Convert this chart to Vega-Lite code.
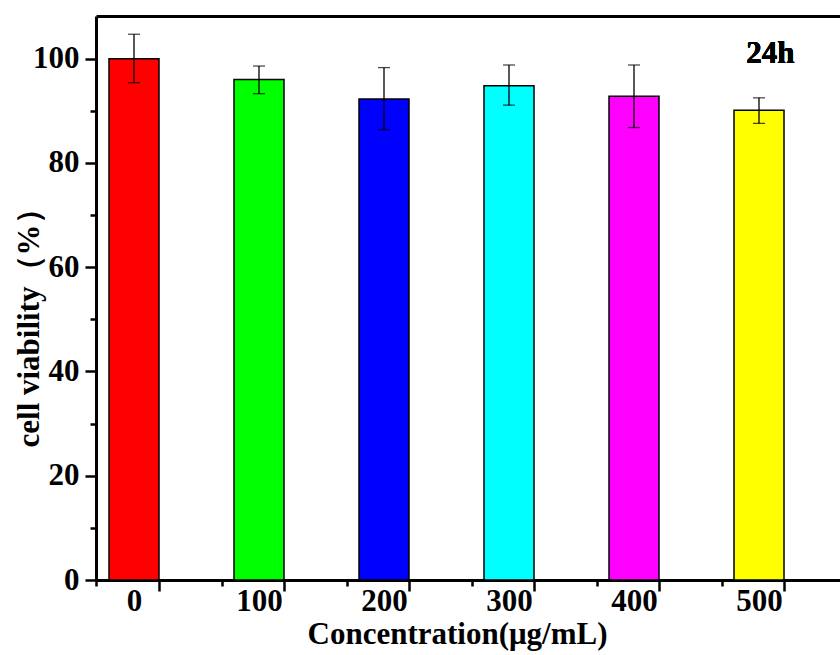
{
  "$schema": "https://vega.github.io/schema/vega-lite/v6.json",
  "width": 744,
  "height": 564,
  "autosize": {"type": "none"},
  "padding": {"left": 96, "top": 16, "right": 0, "bottom": 75},
  "background": "white",
  "config": {
    "view": {"stroke": null},
    "font": "Liberation Serif",
    "axis": {"grid": false, "domainColor": "black", "tickColor": "black", "labelColor": "black", "titleColor": "black"}
  },
  "data": {
    "values": [
      {"conc": 0, "viability": 100.0, "lo": 95.4, "hi": 104.7, "group": "0"},
      {"conc": 100, "viability": 96.0, "lo": 93.3, "hi": 98.6, "group": "100"},
      {"conc": 200, "viability": 92.3, "lo": 86.4, "hi": 98.3, "group": "200"},
      {"conc": 300, "viability": 94.8, "lo": 91.1, "hi": 98.8, "group": "300"},
      {"conc": 400, "viability": 92.8, "lo": 86.8, "hi": 98.8, "group": "400"},
      {"conc": 500, "viability": 90.1, "lo": 87.6, "hi": 92.5, "group": "500"}
    ]
  },
  "resolve": {"axis": {"x": "independent", "y": "independent"}},
  "layer": [
    {
      "mark": {"type": "bar", "width": 50, "stroke": "black", "strokeWidth": 1.5},
      "encoding": {
        "x": {
          "field": "conc", "type": "quantitative",
          "scale": {"domain": [-30.4, 564.8], "nice": false, "zero": false, "padding": 0},
          "axis": {
            "orient": "bottom",
            "values": [20, 120, 220, 320, 420, 520],
            "labelExpr": "datum.value - 20",
            "labelOffset": -25,
            "tickSize": 11, "tickWidth": 2.5, "domainWidth": 3,
            "labelFont": "Liberation Serif", "labelFontWeight": "bold", "labelFontSize": 31,
            "labelPadding": -5,
            "title": "Concentration(μg/mL)",
            "titleFont": "Liberation Serif", "titleFontWeight": "bold", "titleFontSize": 31,
            "titleX": 361, "titleY": 63, "titleBaseline": "alphabetic", "titleAnchor": null, "titleAlign": "center"
          }
        },
        "y": {
          "field": "viability", "type": "quantitative",
          "scale": {"domain": [0, 108.2], "nice": false, "padding": 0},
          "axis": {
            "orient": "left",
            "values": [0, 20, 40, 60, 80, 100],
            "tickSize": 11, "tickWidth": 2.5, "domainWidth": 3,
            "labelFont": "Liberation Serif", "labelFontWeight": "bold", "labelFontSize": 31,
            "labelPadding": 6,
            "title": "cell viability（%）",
            "titleFont": "Liberation Serif", "titleFontWeight": "bold", "titleFontSize": 31,
            "titleAngle": -90, "titleX": -58, "titleY": 304, "titleBaseline": "alphabetic", "titleAlign": "center", "titleAnchor": null
          }
        },
        "color": {
          "field": "group", "type": "nominal",
          "scale": {"domain": ["0", "100", "200", "300", "400", "500"], "range": ["#FF0000", "#00FF00", "#0000FF", "#00FFFF", "#FF00FF", "#FFFF00"]},
          "legend": null
        }
      }
    },
    {
      "mark": {"type": "rule", "color": "black", "strokeWidth": 1.3},
      "encoding": {
        "x": {
          "field": "conc", "type": "quantitative",
          "axis": {
            "orient": "bottom",
            "values": [-30, 70, 170, 270, 370, 470],
            "tickSize": 6, "tickWidth": 2.5, "labels": false, "domain": false, "title": null
          }
        },
        "y": {
          "field": "lo", "type": "quantitative",
          "axis": {
            "orient": "left",
            "values": [10, 30, 50, 70, 90],
            "tickSize": 6, "tickWidth": 2.5, "labels": false, "domain": false, "title": null
          }
        },
        "y2": {"field": "hi"}
      }
    },
    {
      "mark": {"type": "tick", "orient": "horizontal", "color": "black", "size": 12, "thickness": 1.3},
      "encoding": {
        "x": {
          "field": "conc", "type": "quantitative",
          "axis": {"orient": "top", "ticks": false, "labels": false, "domain": true, "domainWidth": 3, "title": null}
        },
        "y": {"field": "lo", "type": "quantitative", "axis": null}
      }
    },
    {
      "mark": {"type": "tick", "orient": "horizontal", "color": "black", "size": 12, "thickness": 1.3},
      "encoding": {
        "x": {"field": "conc", "type": "quantitative", "axis": null},
        "y": {"field": "hi", "type": "quantitative", "axis": null}
      }
    },
    {
      "mark": {"type": "text", "text": "24h", "font": "Liberation Serif", "fontWeight": "bold", "fontSize": 31, "align": "center", "baseline": "alphabetic", "color": "black"},
      "encoding": {
        "x": {"datum": 509, "type": "quantitative", "axis": null},
        "y": {"datum": 99.2, "type": "quantitative", "axis": null}
      }
    }
  ]
}
